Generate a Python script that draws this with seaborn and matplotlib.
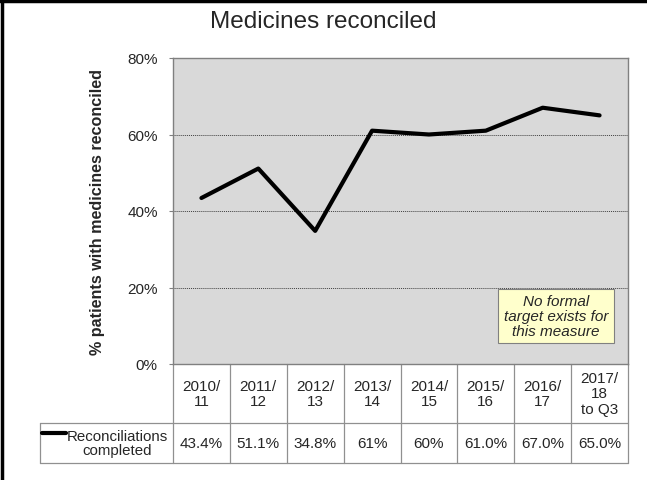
import pandas as pd
import matplotlib.pyplot as plt
import seaborn as sns
from matplotlib.lines import Line2D

# -----------------------------
# Data
# -----------------------------
years = ["2010/\n11", "2011/\n12", "2012/\n13", "2013/\n14",
         "2014/\n15", "2015/\n16", "2016/\n17", "2017/\n18\nto Q3"]
reconciled = [43.4, 51.1, 34.8, 61, 60, 61.0, 67.0, 65.0]
table_labels = ["43.4%", "51.1%", "34.8%", "61%", "60%", "61.0%", "67.0%", "65.0%"]
y_ticks = [0, 20, 40, 60, 80]

df = pd.DataFrame({"pos": range(len(years)), "value": reconciled})

# -----------------------------
# Theme
# -----------------------------
sns.set_theme(style="white")
plt.rcParams["font.family"] = ["Liberation Sans", "DejaVu Sans"]

fig = plt.figure(figsize=(6.47, 4.81), dpi=100)
W, H = 647, 481
left, right, top, bottom = 173, 628, 59, 365
ax = fig.add_axes([left / W, 1 - bottom / H, (right - left) / W, (bottom - top) / H])
ax.set_facecolor("#D9D9D9")

sns.lineplot(data=df, x="pos", y="value", color="black", linewidth=3, ax=ax)

ax.set_xlim(-0.5, len(years) - 0.5)
ax.set_ylim(0, 80)
ax.set_yticks(y_ticks)
ax.set_yticklabels([f"{t}%" for t in y_ticks], fontsize=11)
ax.set_xticks([])
ax.set_xlabel("")
ax.set_ylabel("% patients with medicines reconciled", fontsize=11.6, fontweight="bold", labelpad=16)
ax.tick_params(axis="y", length=3, width=0.8, color="#808080", pad=8, left=True)
for t in y_ticks[1:-1]:
    ax.axhline(t, color="#404040", linestyle=(0, (1, 1)), linewidth=0.7, zorder=0)
for s in ax.spines.values():
    s.set_color("#808080")
    s.set_linewidth(1)

fig.text(0.5, 1 - 22 / H, "Medicines reconciled", ha="center", va="center", fontsize=17.5)

# note box
ax.text((556 - left) / (right - left), (bottom - 317) / (bottom - top),
        "No formal\ntarget exists for\nthis measure", transform=ax.transAxes,
        ha="center", va="center", fontsize=11, style="italic", linespacing=1.1,
        bbox=dict(boxstyle="square,pad=0.35", facecolor="#FFFFCC", edgecolor="#808080", linewidth=0.8))

# -----------------------------
# Data table under the axis
# -----------------------------
trans = ax.get_xaxis_transform()
ph = bottom - top
hdr_bot = -(424 - bottom) / ph
row_bot = -(464 - bottom) / ph
unit = (right - left) / len(years)
leg_left = -0.5 - (left - 40) / unit
edge = "#909090"

for i in range(len(years) + 1):
    ax.plot([i - 0.5, i - 0.5], [0, row_bot], transform=trans, color=edge, lw=0.9, clip_on=False)
ax.plot([leg_left, len(years) - 0.5], [hdr_bot, hdr_bot], transform=trans, color=edge, lw=0.9, clip_on=False)
ax.plot([leg_left, len(years) - 0.5], [row_bot, row_bot], transform=trans, color=edge, lw=0.9, clip_on=False)
ax.plot([leg_left, leg_left], [hdr_bot, row_bot], transform=trans, color=edge, lw=0.9, clip_on=False)

for i, (yr, lab) in enumerate(zip(years, table_labels)):
    ax.text(i, hdr_bot / 2, yr, transform=trans, ha="center", va="center", fontsize=11, linespacing=1.15)
    ax.text(i, (hdr_bot + row_bot) / 2, lab, transform=trans, ha="center", va="center", fontsize=11)

mid = (hdr_bot + row_bot) / 2
line_y = -(434 - bottom) / ph
ax.plot([leg_left + 0.04, leg_left + 0.46], [line_y, line_y], transform=trans,
        color="black", lw=3, clip_on=False)
ax.text(-0.5 - (left - 117) / unit, mid, "Reconciliations\ncompleted", transform=trans,
        ha="center", va="center", fontsize=10.8, linespacing=1.0)

# figure frame (left and top edges)
fig.add_artist(Line2D([2 / W, 2 / W], [0, 1], color="black", lw=2.5))
fig.add_artist(Line2D([0, 1], [1 - 2 / H, 1 - 2 / H], color="black", lw=2.5))

fig.savefig("out.png", dpi=100)
